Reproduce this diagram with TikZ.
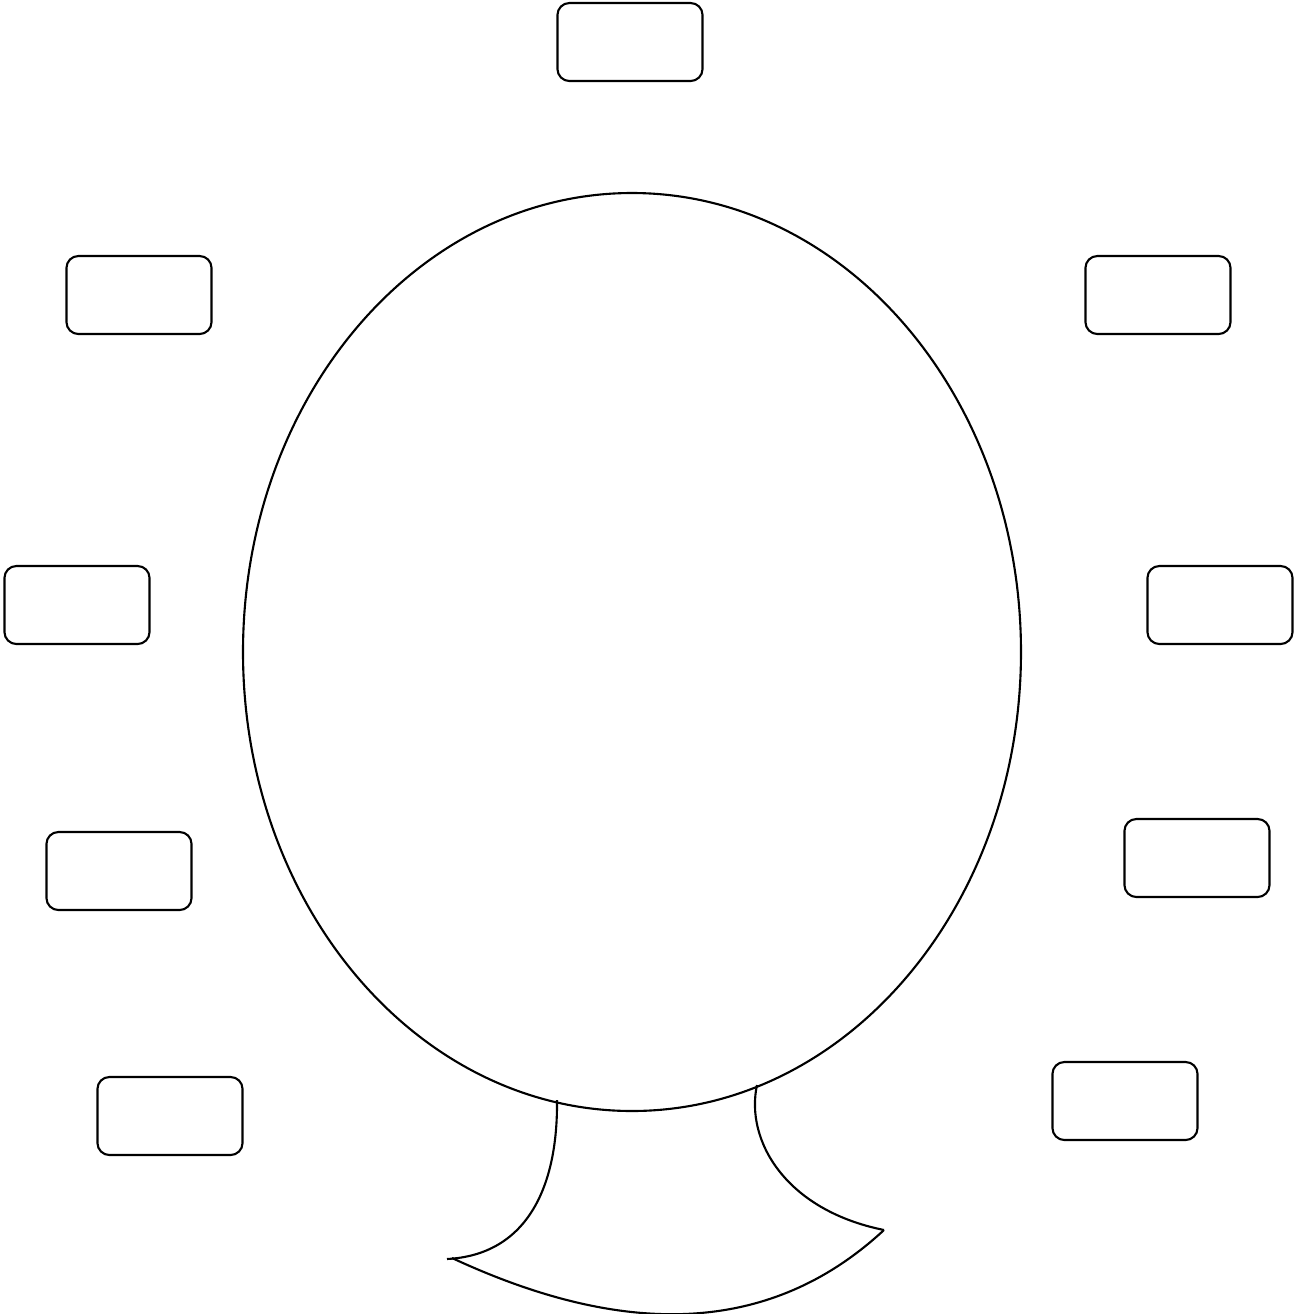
\documentclass[tikz,border=0pt]{standalone}
\usepackage{tikz}
\usetikzlibrary{calc}

\begin{document}
\begin{tikzpicture}[x=0.01cm,y=-0.01cm]
		\tikzset{box/.style={draw, line width=0.6pt, rounded corners=0.12cm, minimum width=1.45cm, minimum height=0.78cm, inner sep=0pt}}
		\useasboundingbox (0,0) rectangle (1300,1314);
		% head
		\draw[line width=0.6pt] (632,652) ellipse [x radius=389, y radius=459];
		% neck
		\draw[line width=0.6pt] (557,1100) .. controls (558,1190) and (525,1255) .. (447,1259);
		\draw[line width=0.6pt] (757,1085) .. controls (745,1140) and (785,1210) .. (884,1230);
		\draw[line width=0.6pt] (452,1258) .. controls (607,1330) and (760,1345) .. (884,1230);
		% boxes
		\node[box] (top) at (630,42) {};
		\node[box] (lefta) at (139,295) {};
		\node[box] (righta) at (1158,295) {};
		\node[box] (leftb) at (77,605) {};
		\node[box] (rightb) at (1220,605) {};
		\node[box] (leftc) at (119,871) {};
		\node[box] (rightc) at (1197,858) {};
		\node[box] (leftd) at (170,1116) {};
		\node[box] (rightd) at (1125,1101) {};
	\end{tikzpicture}
\end{document}
